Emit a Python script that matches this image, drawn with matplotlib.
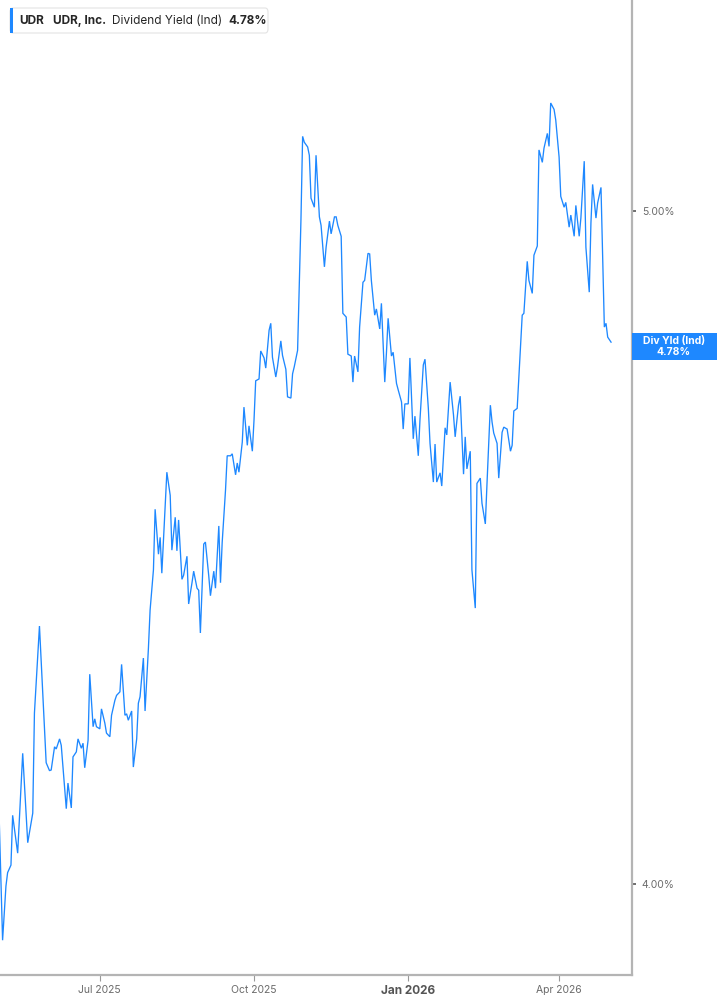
import matplotlib
matplotlib.use('Agg')
import matplotlib.pyplot as plt
import matplotlib.ticker as mticker
import matplotlib.transforms as mtransforms
from matplotlib.patches import Rectangle, FancyBboxPatch
import pandas as pd

plt.rcParams['font.family'] = ['Inter', 'DejaVu Sans']

# UDR dividend yield (%)
dates_2025 = ['05-02', '05-04', '05-06', '05-07', '05-09', '05-10', '05-13', '05-15', '05-16', '05-19',
              '05-22', '05-23', '05-26', '05-30',
              '06-01', '06-02', '06-04', '06-05', '06-07', '06-08', '06-11', '06-12', '06-14', '06-15',
              '06-17', '06-18', '06-20', '06-21', '06-22', '06-24', '06-25', '06-27', '06-28', '06-29',
              '07-01', '07-02', '07-04', '07-05', '07-07', '07-08', '07-10', '07-11', '07-13', '07-14',
              '07-16', '07-17', '07-18', '07-20', '07-21', '07-23', '07-24', '07-25', '07-27', '07-28',
              '07-30', '07-31',
              '08-02', '08-03', '08-05', '08-06', '08-07', '08-09', '08-10', '08-12', '08-13', '08-15',
              '08-16', '08-17', '08-19', '08-20', '08-22', '08-23', '08-25', '08-26', '08-28', '08-29', '08-30',
              '09-01', '09-02', '09-04', '09-05', '09-07', '09-08', '09-10', '09-11', '09-12', '09-14',
              '09-15', '09-17', '09-18', '09-20', '09-21', '09-22', '09-24', '09-25', '09-27', '09-28', '09-30',
              '10-01', '10-02', '10-04', '10-05', '10-07', '10-08', '10-10', '10-11', '10-12', '10-14',
              '10-15', '10-17', '10-18', '10-20', '10-21', '10-23', '10-24', '10-25', '10-27', '10-28',
              '10-29', '10-30', '10-31',
              '11-02', '11-03', '11-04', '11-06', '11-07', '11-09', '11-10', '11-12', '11-13', '11-15',
              '11-16', '11-18', '11-19', '11-20', '11-22', '11-23', '11-25', '11-26', '11-28', '11-29', '11-30',
              '12-02', '12-03', '12-05', '12-06', '12-08', '12-09', '12-10', '12-12', '12-13', '12-15',
              '12-16', '12-18', '12-19', '12-20', '12-22', '12-23', '12-25', '12-26', '12-28', '12-29', '12-30']
yield_2025 = [4.086, 3.926, 3.997, 4.015, 4.025, 4.092, 4.041, 4.131, 4.177, 4.055,
              4.095, 4.233, 4.357, 4.164,
              4.153, 4.154, 4.186, 4.183, 4.197, 4.188, 4.101, 4.136, 4.102, 4.172,
              4.179, 4.197, 4.184, 4.191, 4.157, 4.195, 4.288, 4.214, 4.225, 4.214,
              4.211, 4.239, 4.219, 4.205, 4.200, 4.230, 4.251, 4.258, 4.263, 4.302,
              4.230, 4.232, 4.223, 4.236, 4.158, 4.197, 4.247, 4.256, 4.311, 4.236,
              4.325, 4.380,
              4.439, 4.529, 4.462, 4.487, 4.434, 4.532, 4.585, 4.550, 4.468, 4.517,
              4.467, 4.513, 4.425, 4.431, 4.459, 4.389, 4.420, 4.437, 4.412, 4.409, 4.347,
              4.477, 4.480, 4.430, 4.401, 4.437, 4.412, 4.504, 4.420, 4.479, 4.558,
              4.610, 4.610, 4.613, 4.581, 4.599, 4.585, 4.631, 4.685, 4.626, 4.656, 4.617,
              4.665, 4.726, 4.729, 4.773, 4.762, 4.746, 4.806, 4.817, 4.763, 4.732,
              4.748, 4.789, 4.766, 4.744, 4.701, 4.699, 4.737, 4.748, 4.774, 4.875,
              4.985, 5.125, 5.115,
              5.107, 5.093, 5.021, 5.006, 5.093, 4.990, 4.976, 4.908, 4.940, 4.983,
              4.962, 4.990, 4.990, 4.976, 4.958, 4.833, 4.827, 4.768, 4.765, 4.724, 4.765,
              4.740, 4.811, 4.883, 4.886, 4.930, 4.929, 4.886, 4.830, 4.840, 4.808,
              4.849, 4.724, 4.770, 4.825, 4.765, 4.771, 4.722, 4.712, 4.693, 4.651, 4.690]

dates_2026 = ['01-01', '01-02', '01-04', '01-05', '01-07', '01-08', '01-10', '01-11', '01-13', '01-14',
              '01-16', '01-17', '01-18', '01-20', '01-21', '01-23', '01-24', '01-26', '01-28', '01-29', '01-31',
              '02-01', '02-03', '02-04', '02-05', '02-07', '02-08', '02-10', '02-11', '02-13', '02-14',
              '02-16', '02-17', '02-19', '02-20', '02-21', '02-23', '02-24', '02-26', '02-27',
              '03-01', '03-03', '03-04', '03-05', '03-07', '03-08', '03-10', '03-11', '03-13', '03-14',
              '03-16', '03-17', '03-19', '03-20', '03-22', '03-23', '03-25', '03-26', '03-27', '03-29', '03-30',
              '04-01', '04-02', '04-04', '04-05', '04-07', '04-08', '04-10', '04-11', '04-13', '04-14',
              '04-16', '04-17', '04-19', '04-20', '04-21', '04-23', '04-24', '04-26', '04-28', '04-29', '04-30',
              '05-02']
yield_2026 = [4.690, 4.762, 4.636, 4.671, 4.610, 4.665, 4.751, 4.760, 4.683, 4.629,
              4.570, 4.628, 4.570, 4.584, 4.564, 4.653, 4.642, 4.724, 4.673, 4.639, 4.688,
              4.702, 4.582, 4.639, 4.590, 4.617, 4.439, 4.383, 4.568, 4.576, 4.538,
              4.507, 4.568, 4.688, 4.662, 4.645, 4.629, 4.576, 4.646, 4.654,
              4.651, 4.617, 4.626, 4.679, 4.683, 4.732, 4.830, 4.833, 4.917, 4.886,
              4.865, 4.927, 4.942, 5.102, 5.081, 5.105, 5.130, 5.108, 5.182, 5.171, 5.153,
              5.090, 5.024, 5.006, 5.014, 4.973, 4.993, 4.958, 5.009, 4.958, 4.988,
              5.083, 4.940, 4.867, 4.980, 5.044, 4.988, 5.013, 5.039, 4.811, 4.817, 4.795,
              4.787]

current_yield = 4.78
y_ticks = [4.0, 5.0]
x_ticks = ['2025-07-01', '2025-10-01', '2026-01-01', '2026-04-01']
x_tick_labels = ['Jul 2025', 'Oct 2025', 'Jan 2026', 'Apr 2026']

dates = pd.to_datetime(['2025-' + d for d in dates_2025] + ['2026-' + d for d in dates_2026])
values = yield_2025 + yield_2026

blue = '#1e88ff'
axis_grey = '#b4b4b4'
text_grey = '#6b6b6b'

W, H = 717, 1005
fig = plt.figure(figsize=(W / 100, H / 100), dpi=100)
ax = fig.add_axes([0, 30 / H, 632 / W, 975 / H])

ax.plot(dates, values, color=blue, linewidth=0.95, solid_joinstyle='miter')

ax.set_yscale('log')
ax.set_ylim(3.881, 5.362)
ax.set_xlim(pd.Timestamp('2025-05-02 11:00'), pd.Timestamp('2026-05-14 12:00'))

ax.yaxis.tick_right()
ax.yaxis.set_major_locator(mticker.FixedLocator(y_ticks))
ax.yaxis.set_minor_locator(mticker.NullLocator())
ax.yaxis.set_major_formatter(mticker.FuncFormatter(lambda v, p: f'{v:.2f}%'))
ax.tick_params(axis='y', which='major', direction='out', length=3, width=1.2,
               color='#555555', labelsize=7.5, labelcolor=text_grey, pad=4)

ax.set_xticks(pd.to_datetime(x_ticks))
ax.set_xticklabels(x_tick_labels)
ax.tick_params(axis='x', direction='out', length=4, width=0.8, color='#999999',
               labelsize=7.5, labelcolor=text_grey, pad=3)
for lbl in ax.get_xticklabels():
    if lbl.get_text().startswith('Jan'):
        lbl.set_fontweight('bold')
        lbl.set_fontsize(8.5)
        lbl.set_color('#555555')

for side in ['left', 'top']:
    ax.spines[side].set_visible(False)
for side in ['right', 'bottom']:
    ax.spines[side].set_color(axis_grey)
    ax.spines[side].set_linewidth(1.6)

# current value flag on the right axis
trans = mtransforms.blended_transform_factory(ax.transAxes, ax.transData)
half = 1.0044
ax.add_patch(Rectangle((1.0, current_yield / half), W / 632 - 1.0, current_yield * half - current_yield / half,
                       transform=trans, facecolor=blue, edgecolor='none', clip_on=False, zorder=5))
up = trans + mtransforms.ScaledTranslation(0, 5.5 / 100, fig.dpi_scale_trans)
down = trans + mtransforms.ScaledTranslation(0, -5.5 / 100, fig.dpi_scale_trans)
ax.text(674 / 632, current_yield, 'Div Yld (Ind)', transform=up, ha='center', va='center',
        color='white', fontsize=7.5, fontweight='bold', zorder=6, clip_on=False)
ax.text(674 / 632, current_yield, f'{current_yield:.2f}%', transform=down, ha='center', va='center',
        color='white', fontsize=7.5, fontweight='bold', zorder=6, clip_on=False)

# legend chip, top left
def fx(px):
    return px / W

def fy(py):
    return 1 - py / H

fig.patches.append(FancyBboxPatch((fx(10), fy(33)), fx(258), 25 / H, boxstyle='round,pad=0,rounding_size=0.004',
                                  transform=fig.transFigure, facecolor='white', edgecolor='#e3e3e3',
                                  linewidth=0.8, zorder=5))
fig.patches.append(Rectangle((fx(10), fy(33)), fx(3), 25 / H, transform=fig.transFigure,
                             facecolor=blue, edgecolor='none', zorder=6))
chip_font = 8.5
fig.text(fx(19), fy(21), 'UDR', fontsize=chip_font, fontweight='bold', color='#262626', va='center', zorder=7)
fig.text(fx(53), fy(21), 'UDR, Inc.', fontsize=chip_font, fontweight='bold', color='#262626', va='center', zorder=7)
fig.text(fx(112), fy(21), 'Dividend Yield (Ind)', fontsize=chip_font, color='#262626', va='center', zorder=7)
fig.text(fx(228), fy(21), f'{current_yield:.2f}%', fontsize=chip_font, fontweight='bold', color='#262626',
         va='center', zorder=7)

fig.savefig('out.png', dpi=100)
